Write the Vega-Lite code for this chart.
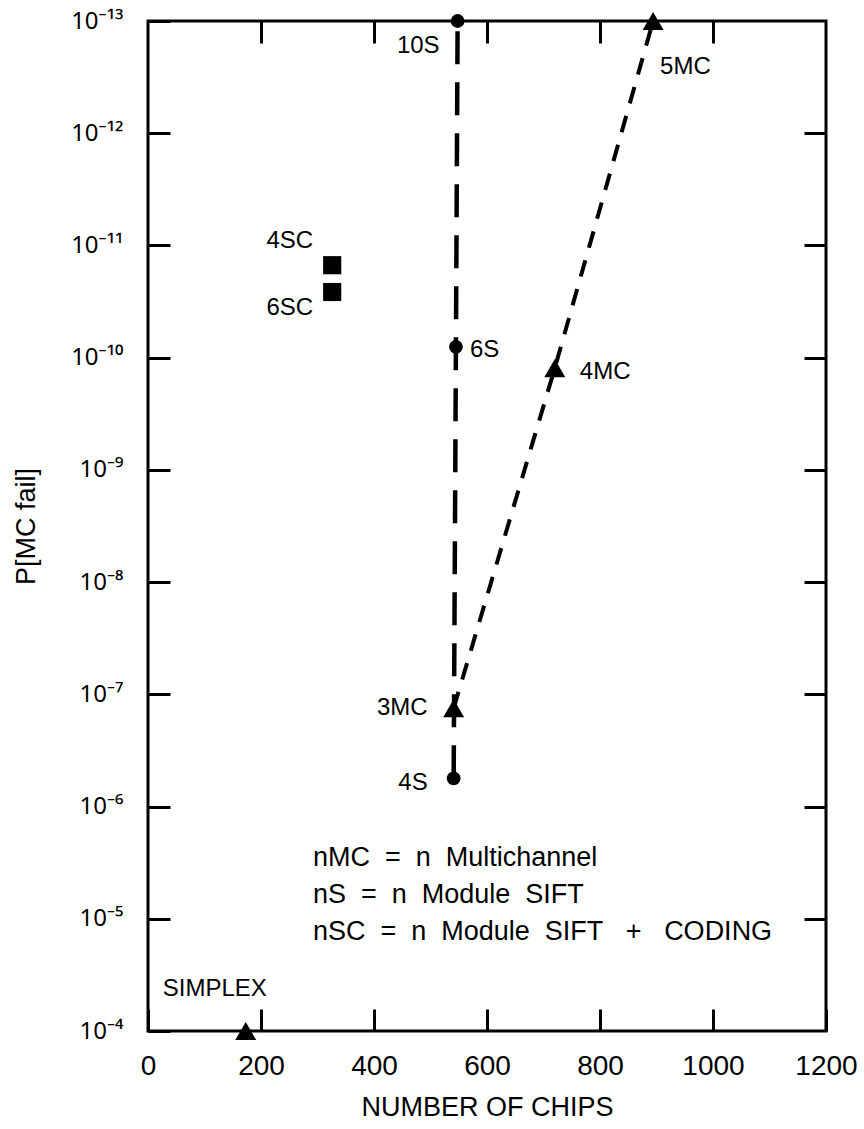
{
  "$schema": "https://vega.github.io/schema/vega-lite/v6.json",
  "width": 678,
  "height": 1010,
  "autosize": "none",
  "padding": {"left": 148, "top": 21, "right": 38, "bottom": 98},
  "background": "white",
  "config": {
    "font": "Liberation Sans",
    "view": {"stroke": "black", "strokeWidth": 3},
    "axis": {"grid": false, "domain": false, "tickColor": "black", "tickWidth": 3, "labelColor": "black", "titleColor": "black", "labelFlush": false, "labelOverlap": false, "labelBound": false, "titleFontWeight": "normal"}
  },
  "datasets": {
    "pts": [
      {"label": "SIMPLEX", "series": "SIMPLEX", "shape": "triangle", "chips": 173, "p": 1e-4},
      {"label": "4S", "series": "S", "shape": "circle", "chips": 541, "p": 5.6e-7},
      {"label": "6S", "series": "S", "shape": "circle", "chips": 545, "p": 8.0e-11},
      {"label": "10S", "series": "S", "shape": "circle", "chips": 548, "p": 1e-13},
      {"label": "3MC", "series": "MC", "shape": "triangle", "chips": 541, "p": 1.33e-7},
      {"label": "4MC", "series": "MC", "shape": "triangle", "chips": 720, "p": 1.24e-10},
      {"label": "5MC", "series": "MC", "shape": "triangle", "chips": 894, "p": 1.0e-13},
      {"label": "4SC", "series": "SC", "shape": "square", "chips": 326, "p": 1.5e-11},
      {"label": "6SC", "series": "SC", "shape": "square", "chips": 326, "p": 2.6e-11}
    ],
    "notes": [
      {"note": "nMC\u00a0 =\u00a0 n\u00a0 Multichannel", "chips": 292, "p": 2.88e-6},
      {"note": "nS\u00a0 =\u00a0 n\u00a0 Module\u00a0 SIFT", "chips": 292, "p": 6.1e-6},
      {"note": "nSC\u00a0 =\u00a0 n\u00a0 Module\u00a0 SIFT\u00a0\u00a0 +\u00a0\u00a0 CODING", "chips": 292, "p": 1.31e-5}
    ]
  },
  "data": {"name": "pts"},
  "encoding": {
    "x": {"field": "chips", "type": "quantitative", "scale": {"domain": [0, 1200], "nice": false, "zero": false}, "axis": null},
    "y": {"field": "p", "type": "quantitative", "scale": {"type": "log", "domain": [1e-13, 1e-4], "reverse": true, "nice": false}, "axis": null}
  },
  "layer": [
    {
      "transform": [{"filter": "datum.series === 'S'"}],
      "mark": {"type": "line", "color": "black", "strokeWidth": 4.5, "strokeDash": [33, 18]},
      "encoding": {
        "x": {"field": "chips", "type": "quantitative", "scale": {"domain": [0, 1200], "nice": false, "zero": false},
          "axis": {"orient": "bottom", "values": [0, 200, 400, 600, 800, 1000, 1200], "format": "d", "tickSize": -22, "labelFontSize": 28, "labelPadding": 43, "title": "NUMBER OF CHIPS", "titleFontSize": 27, "titlePadding": 14}},
        "y": {"field": "p", "type": "quantitative", "scale": {"type": "log", "domain": [1e-13, 1e-4], "reverse": true, "nice": false},
          "axis": {"orient": "left", "values": [1e-13, 1e-12, 1e-11, 1e-10, 1e-9, 1e-8, 1e-7, 1e-6, 1e-5, 1e-4], "tickSize": -22, "labelFont": "Noto Sans", "labelFontSize": 24, "labelPadding": 47, "labelExpr": "['10\u207b\u00b9\u00b3','10\u207b\u00b9\u00b2','10\u207b\u00b9\u00b9','10\u207b\u00b9\u2070','10\u207b\u2079','10\u207b\u2078','10\u207b\u2077','10\u207b\u2076','10\u207b\u2075','10\u207b\u2074'][round(log(datum.value)/LN10)+13]", "title": "P[MC fail]", "titleFontSize": 27, "titlePadding": 30}}
      }
    },
    {
      "transform": [{"filter": "datum.series === 'MC'"}],
      "mark": {"type": "line", "color": "black", "strokeWidth": 4, "strokeDash": [17, 13]},
      "encoding": {
        "x": {"field": "chips", "type": "quantitative", "scale": {"domain": [0, 1200], "nice": false, "zero": false},
          "axis": {"orient": "top", "values": [200, 400, 600, 800, 1000], "tickSize": -22, "labels": false, "title": null}},
        "y": {"field": "p", "type": "quantitative", "scale": {"type": "log", "domain": [1e-13, 1e-4], "reverse": true, "nice": false},
          "axis": {"orient": "right", "values": [1e-12, 1e-11, 1e-10, 1e-9, 1e-8, 1e-7, 1e-6, 1e-5], "tickSize": -22, "labels": false, "title": null}}
      }
    },
    {
      "transform": [{"filter": "datum.shape === 'circle'"}],
      "mark": {"type": "point", "shape": "circle", "filled": true, "color": "black", "opacity": 1, "size": 190}
    },
    {
      "transform": [{"filter": "datum.shape === 'triangle'"}],
      "mark": {"type": "point", "shape": "triangle-up", "filled": true, "color": "black", "opacity": 1, "size": 440}
    },
    {
      "transform": [{"filter": "datum.shape === 'square'"}],
      "mark": {"type": "point", "shape": "square", "filled": true, "color": "black", "opacity": 1, "size": 330}
    },
    {"transform": [{"filter": "datum.label === '10S'"}], "mark": {"type": "text", "align": "right", "baseline": "middle", "dx": -18, "dy": 25, "fontSize": 24, "color": "black"}, "encoding": {"text": {"field": "label"}}},
    {"transform": [{"filter": "datum.label === '5MC'"}], "mark": {"type": "text", "align": "left", "baseline": "middle", "dx": 7, "dy": 46, "fontSize": 24, "color": "black"}, "encoding": {"text": {"field": "label"}}},
    {"transform": [{"filter": "datum.label === '4SC'"}], "mark": {"type": "text", "align": "right", "baseline": "middle", "dx": -19, "dy": -24, "fontSize": 24, "color": "black"}, "encoding": {"text": {"field": "label"}}},
    {"transform": [{"filter": "datum.label === '6SC'"}], "mark": {"type": "text", "align": "right", "baseline": "middle", "dx": -19, "dy": 16, "fontSize": 24, "color": "black"}, "encoding": {"text": {"field": "label"}}},
    {"transform": [{"filter": "datum.label === '6S'"}], "mark": {"type": "text", "align": "left", "baseline": "middle", "dx": 14, "dy": 3, "fontSize": 24, "color": "black"}, "encoding": {"text": {"field": "label"}}},
    {"transform": [{"filter": "datum.label === '4MC'"}], "mark": {"type": "text", "align": "left", "baseline": "middle", "dx": 25, "dy": 4, "fontSize": 24, "color": "black"}, "encoding": {"text": {"field": "label"}}},
    {"transform": [{"filter": "datum.label === '3MC'"}], "mark": {"type": "text", "align": "right", "baseline": "middle", "dx": -26, "dy": 0, "fontSize": 24, "color": "black"}, "encoding": {"text": {"field": "label"}}},
    {"transform": [{"filter": "datum.label === '4S'"}], "mark": {"type": "text", "align": "right", "baseline": "middle", "dx": -26, "dy": 5, "fontSize": 24, "color": "black"}, "encoding": {"text": {"field": "label"}}},
    {"transform": [{"filter": "datum.label === 'SIMPLEX'"}], "mark": {"type": "text", "align": "left", "baseline": "middle", "dx": -83, "dy": -42, "fontSize": 24, "color": "black"}, "encoding": {"text": {"field": "label"}}},
    {
      "data": {"name": "notes"},
      "mark": {"type": "text", "align": "left", "baseline": "middle", "fontSize": 27, "color": "black"},
      "encoding": {
        "text": {"field": "note", "type": "nominal"}
      }
    }
  ]
}
